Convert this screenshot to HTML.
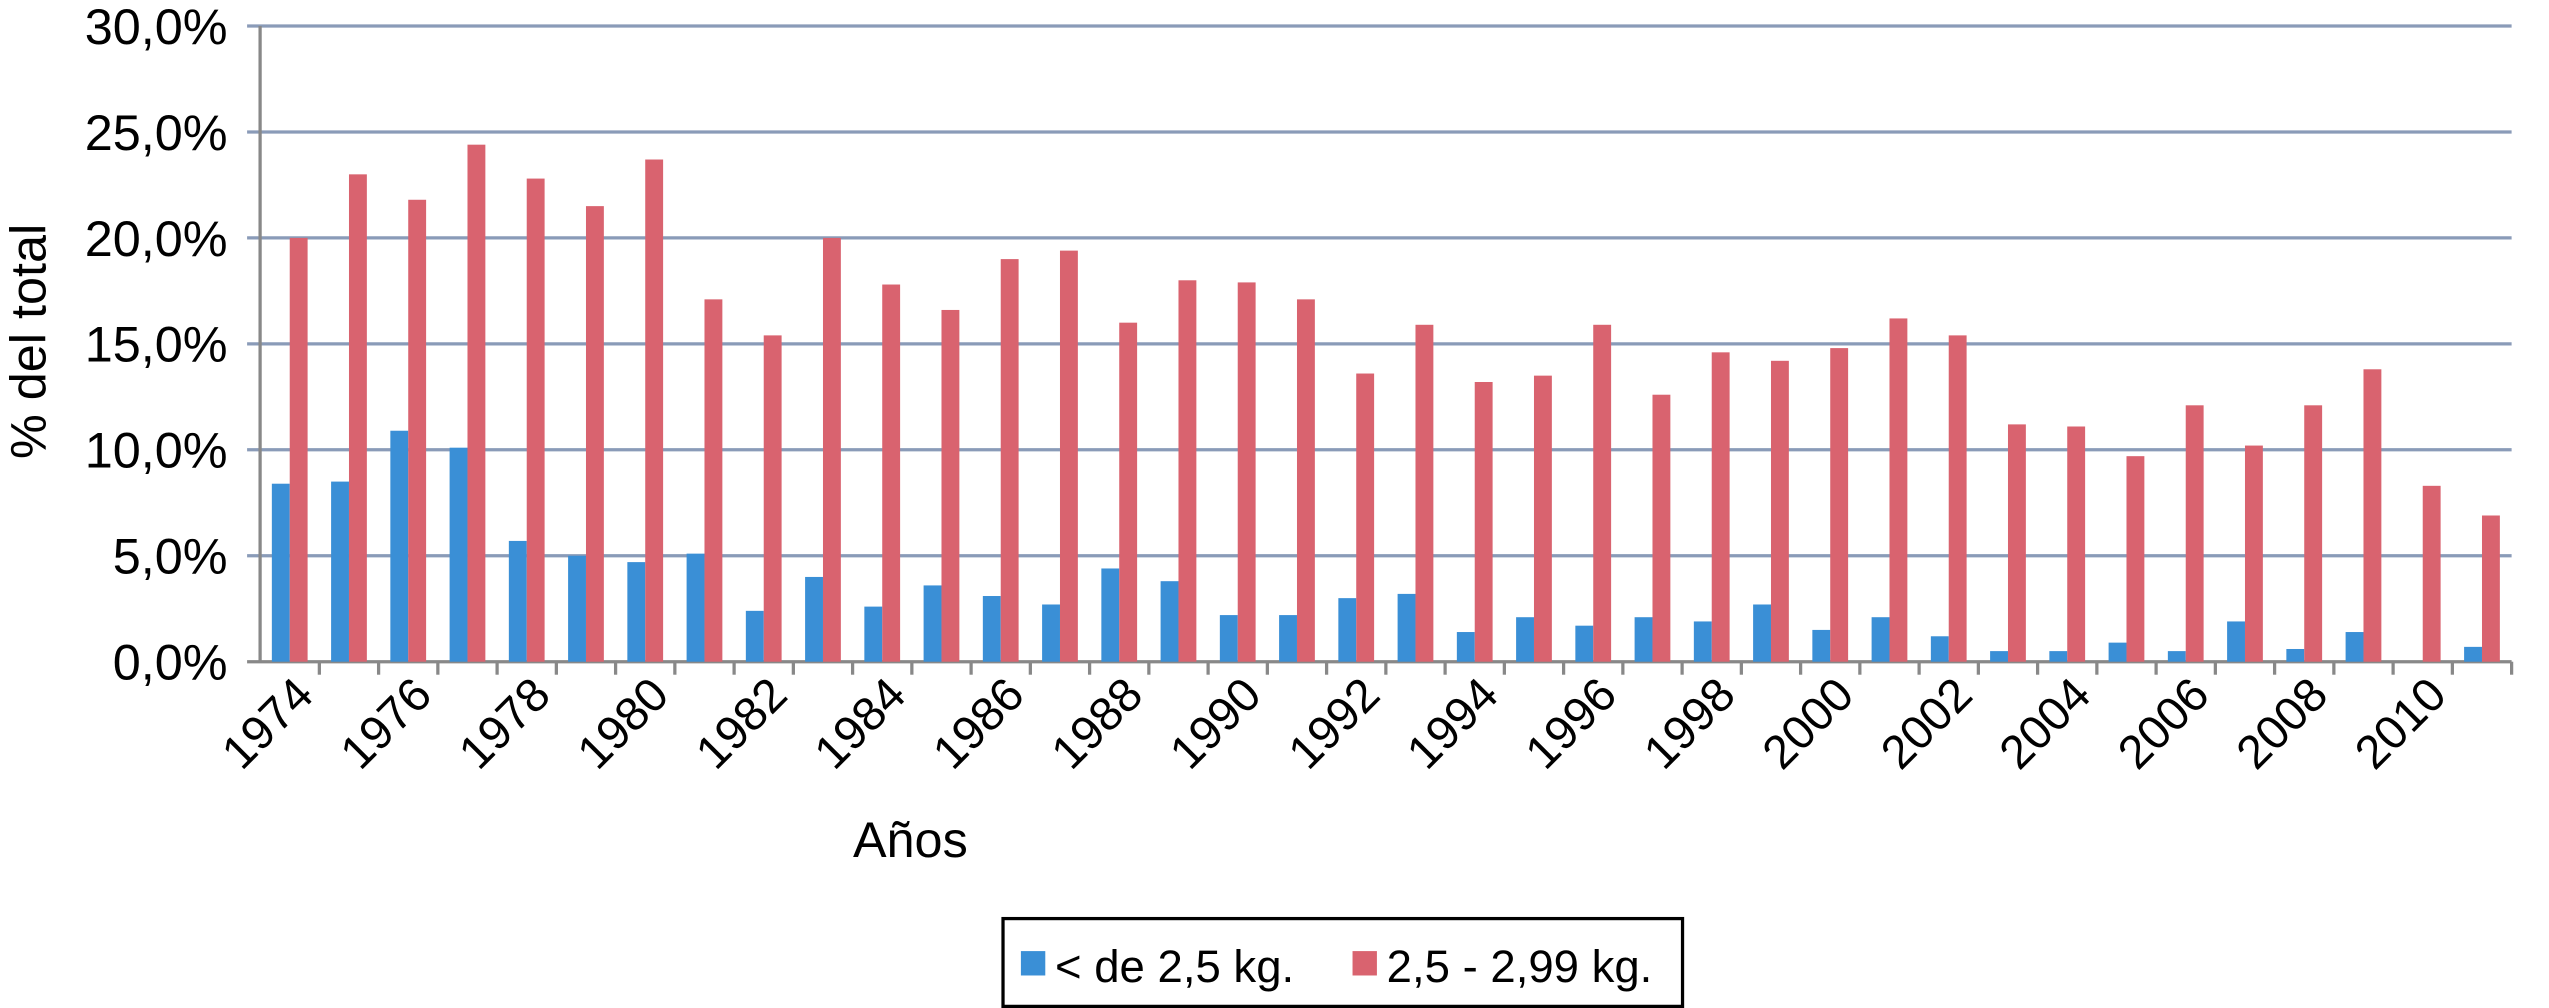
<!DOCTYPE html>
<html><head><meta charset="utf-8"><style>
body{margin:0;background:#fff;}
svg{display:block;font-family:"Liberation Sans",sans-serif;}
</style></head><body>
<svg id="chart" width="2549" height="1008" viewBox="0 0 1568 620" preserveAspectRatio="none">
<g id="grid"></g><g id="bars"></g><g id="axes"></g>
<text x="28" y="210" font-size="31" text-anchor="middle" transform="rotate(-90 28 210)">% del total</text>
<text x="560" y="527" font-size="31" text-anchor="middle">Años</text>
<g>
<rect x="617" y="565" width="418" height="54" fill="#fff" stroke="#000" stroke-width="2"/>
<rect x="628" y="585" width="15" height="15" fill="#3a8fd6"/>
<text x="649" y="604" font-size="28">&lt; de 2,5 kg.</text>
<rect x="832" y="585" width="15" height="15" fill="#d9636f"/>
<text x="853" y="604" font-size="28">2,5 - 2,99 kg.</text>
</g>
</svg>
<script>
const years=[];for(let y=1974;y<=2011;y++)years.push(y);
const low=[8.4,8.5,10.9,10.1,5.7,5.0,4.7,5.1,2.4,4.0,2.6,3.6,3.1,2.7,4.4,3.8,2.2,2.2,3.0,3.2,1.4,2.1,1.7,2.1,1.9,2.7,1.5,2.1,1.2,0.5,0.5,0.9,0.5,1.9,0.6,1.4,0,0.7];
const mid=[20.0,23.0,21.8,24.4,22.8,21.5,23.7,17.1,15.4,20.0,17.8,16.6,19.0,19.4,16.0,18.0,17.9,17.1,13.6,15.9,13.2,13.5,15.9,12.6,14.6,14.2,14.8,16.2,15.4,11.2,11.1,9.7,12.1,10.2,12.1,13.8,8.3,6.9];
const yTicks=[0,5,10,15,20,25,30];
const NS="http://www.w3.org/2000/svg";
const x0=160,x1=1545,yTop=16,yBot=407;
const step=(x1-x0)/years.length;
const ys=v=>yBot-(v/30)*(yBot-yTop);
const xc=i=>x0+step*(i+0.5);
function mk(tag,attrs,parent){const e=document.createElementNS(NS,tag);for(const k in attrs)e.setAttribute(k,attrs[k]);parent.appendChild(e);return e;}
const grid=document.getElementById('grid'),bars=document.getElementById('bars'),axes=document.getElementById('axes');
yTicks.forEach(t=>{
 const l=mk('line',{x1:x0-8,x2:x1,y1:ys(t),y2:ys(t),stroke:t===0?'#888':'#8a9bb8','stroke-width':2},grid);
 
 
 const tx=mk('text',{x:140,y:ys(t)+11,'font-size':31,'text-anchor':'end'},axes);
 tx.textContent=t.toFixed(1).replace('.',',')+'%';
 
 
});
const ax=mk('line',{x1:x0,x2:x0,y1:yTop,y2:yBot,stroke:'#888','stroke-width':2},axes);


years.forEach((yr,i)=>{
 const c=xc(i);
 const b=mk('rect',{x:c-11,y:ys(low[i]),width:11,height:yBot-ys(low[i]),fill:'#3a8fd6'},bars);
 
 
 const r=mk('rect',{x:c,y:ys(mid[i]),width:11,height:yBot-ys(mid[i]),fill:'#d9636f'},bars);
 
 
 const tk=mk('line',{x1:x0+step*(i+1),x2:x0+step*(i+1),y1:yBot,y2:yBot+8,stroke:'#888','stroke-width':2},axes);
 
 
 if(i%2===0){
  const lx=c+16,ly=yBot+22;
  const t=mk('text',{x:lx,y:ly,'font-size':29,'text-anchor':'end',transform:`rotate(-45 ${lx} ${ly})`},axes);
  t.textContent=yr;
  
  
 }
});
</script>
</body></html>
